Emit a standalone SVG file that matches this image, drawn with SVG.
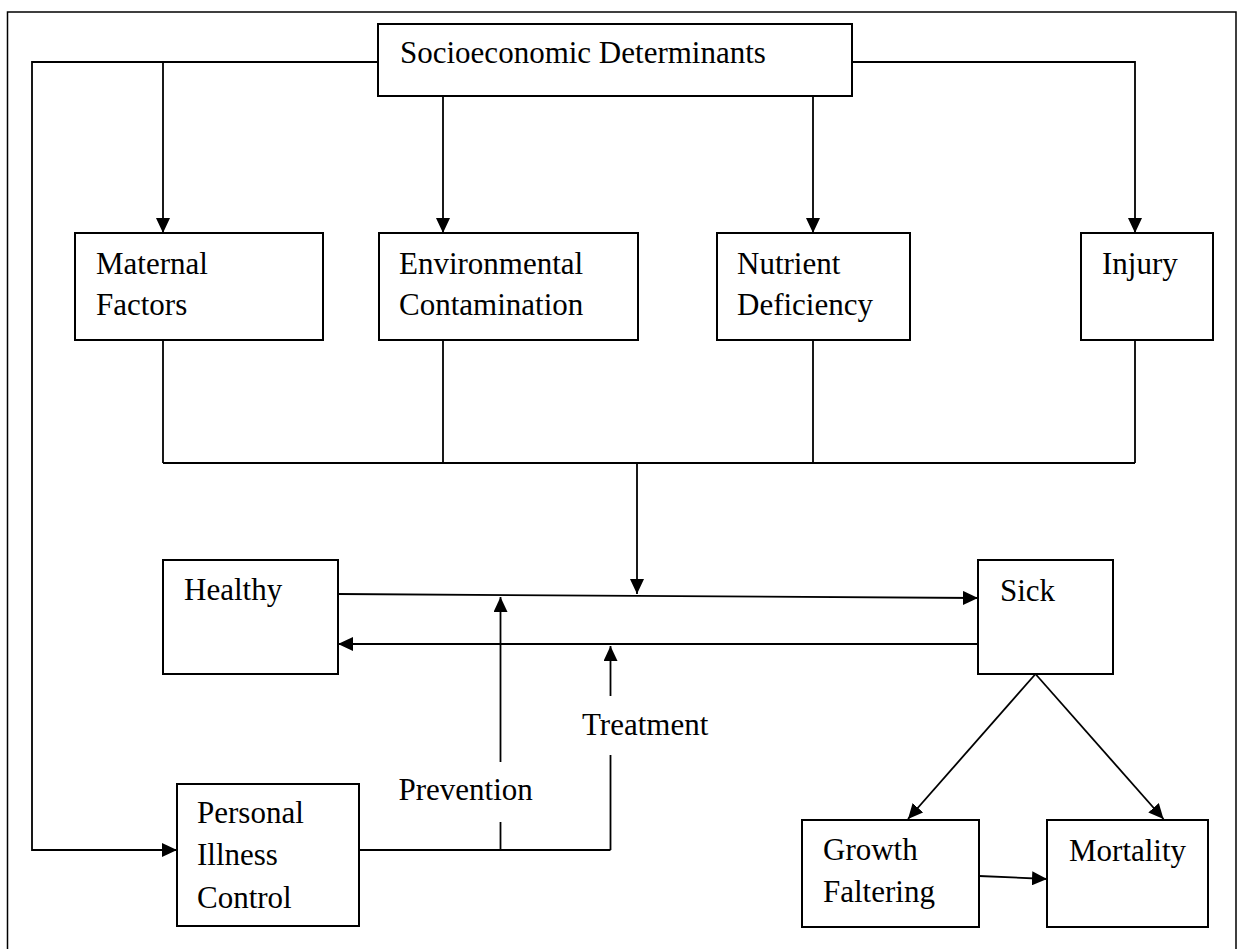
<svg xmlns="http://www.w3.org/2000/svg" width="1237" height="949" viewBox="0 0 1237 949">
<style>
.box{fill:#fff;stroke:#000;stroke-width:2}
.t{font-family:"Liberation Serif","Times New Roman",serif;font-size:31px;fill:#000}
.c{fill:none;stroke:#000;stroke-width:1.8}
.a{marker-end:url(#ah)}
</style>
<defs>
<marker id="ah" markerUnits="userSpaceOnUse" markerWidth="16" markerHeight="14" refX="15" refY="7" orient="auto">
<path d="M0,0 L15,7 L0,14 Z" fill="#000"/>
</marker>
</defs>
<rect width="1237" height="949" fill="#fff"/>
<g id="frame" fill="none" stroke="#000" stroke-width="1.5">
<path d="M7.5,949 V12 H1236 V949"/>
</g>
<g id="connectors">
<path class="c a" d="M378,62 H32 V850 H177"/>
<path class="c a" d="M163,62 V233"/>
<path class="c a" d="M443,96 V233"/>
<path class="c a" d="M813,96 V233"/>
<path class="c a" d="M852,62 H1135 V233"/>
<path class="c" d="M163,340 V463 M443,340 V463 M813,340 V463 M1135,340 V463 M163,463 H1135"/>
<path class="c a" d="M637,463 V594"/>
<path class="c a" d="M338,594 L978,598"/>
<path class="c a" d="M978,644 H338"/>
<path class="c" d="M500.5,850 V822"/>
<path class="c a" d="M500.5,762 V597"/>
<path class="c" d="M610.5,850 V755 M359,850 H610.5"/>
<path class="c a" d="M610.5,696 V646"/>
<path class="c a" d="M1035.5,674 L908,819"/>
<path class="c a" d="M1035.5,674 L1163.5,819"/>
<path class="c a" d="M979,876 L1047,879"/>
</g>
<g id="socio"><rect class="box" x="378" y="24" width="474" height="72"/><text class="t" x="400" y="63">Socioeconomic Determinants</text></g>
<g id="maternal"><rect class="box" x="75" y="233" width="248" height="107"/><text class="t" x="96" y="274">Maternal</text><text class="t" x="96" y="315">Factors</text></g>
<g id="environmental"><rect class="box" x="379" y="233" width="259" height="107"/><text class="t" x="399" y="274">Environmental</text><text class="t" x="399" y="315">Contamination</text></g>
<g id="nutrient"><rect class="box" x="717" y="233" width="193" height="107"/><text class="t" x="737" y="274">Nutrient</text><text class="t" x="737" y="315">Deficiency</text></g>
<g id="injury"><rect class="box" x="1081" y="233" width="132" height="107"/><text class="t" x="1102" y="274">Injury</text></g>
<g id="healthy"><rect class="box" x="163" y="560" width="175" height="114"/><text class="t" x="184" y="600">Healthy</text></g>
<g id="sick"><rect class="box" x="978" y="560" width="135" height="114"/><text class="t" x="1000" y="601">Sick</text></g>
<g id="prevention-label"><text class="t" x="398.5" y="800">Prevention</text></g>
<g id="treatment-label"><text class="t" x="582" y="735">Treatment</text></g>
<g id="personal"><rect class="box" x="177" y="784" width="182" height="142"/><text class="t" x="197" y="823">Personal</text><text class="t" x="197" y="865">Illness</text><text class="t" x="197" y="908">Control</text></g>
<g id="growth"><rect class="box" x="802" y="820" width="177" height="107"/><text class="t" x="823" y="860">Growth</text><text class="t" x="823" y="902">Faltering</text></g>
<g id="mortality"><rect class="box" x="1047" y="820" width="161" height="107"/><text class="t" x="1069" y="861">Mortality</text></g>
</svg>
